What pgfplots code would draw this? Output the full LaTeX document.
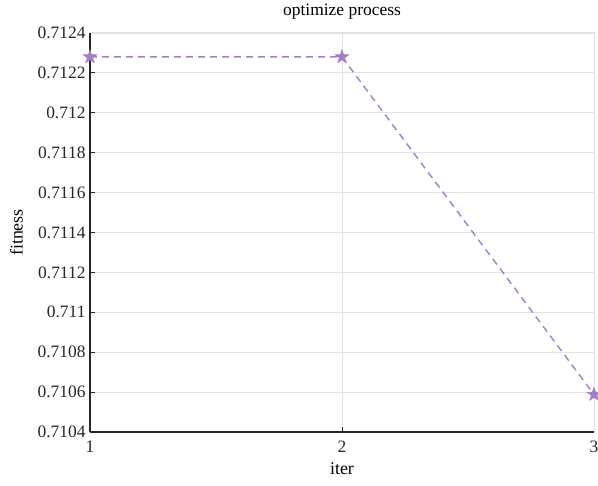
\documentclass[border=0pt]{standalone}
\usepackage{fontspec}
\setmainfont{Liberation Serif}
\usepackage{pgfplots}
\pgfplotsset{compat=1.18}
\definecolor{linepurple}{RGB}{163,126,200}
\definecolor{gridgray}{RGB}{226,226,226}
\definecolor{axisdark}{RGB}{38,38,38}
\pgfdeclareplotmark{pentagram}{%
  \pgfpathmoveto{\pgfqpointpolar{90}{\pgfplotmarksize}}%
  \pgfpathlineto{\pgfqpointpolar{126}{0.4\pgfplotmarksize}}%
  \pgfpathlineto{\pgfqpointpolar{162}{\pgfplotmarksize}}%
  \pgfpathlineto{\pgfqpointpolar{198}{0.4\pgfplotmarksize}}%
  \pgfpathlineto{\pgfqpointpolar{234}{\pgfplotmarksize}}%
  \pgfpathlineto{\pgfqpointpolar{270}{0.4\pgfplotmarksize}}%
  \pgfpathlineto{\pgfqpointpolar{306}{\pgfplotmarksize}}%
  \pgfpathlineto{\pgfqpointpolar{342}{0.4\pgfplotmarksize}}%
  \pgfpathlineto{\pgfqpointpolar{18}{\pgfplotmarksize}}%
  \pgfpathlineto{\pgfqpointpolar{54}{0.4\pgfplotmarksize}}%
  \pgfpathclose
  \pgfusepathqfillstroke
}
\begin{document}
\begin{tikzpicture}
\useasboundingbox (-90bp,-54bp) rectangle (508bp,432bp);
\begin{axis}[
  at={(0,0)}, anchor=south west,
  scale only axis,
  width=504bp, height=399bp,
  xmin=1, xmax=3, ymin=0.7104, ymax=0.7124,
  axis x line*=bottom, axis y line*=left,
  axis line style={axisdark, line width=1.2bp},
  xtick={1,2,3},
  ytick={0.7104,0.7106,0.7108,0.711,0.7112,0.7114,0.7116,0.7118,0.712,0.7122,0.7124},
  yticklabels={0.7104,0.7106,0.7108,0.711,0.7112,0.7114,0.7116,0.7118,0.712,0.7122,0.7124},
  xticklabels={1,2,3},
  tick align=inside,
  major tick length=5bp,
  tick style={axisdark, line width=1bp},
  grid=major,
  grid style={gridgray, line width=0.9bp},
  ticklabel style={font=\fontsize{17.5}{20}\selectfont, text=axisdark},
  yticklabel style={xshift=-1bp},
  xticklabel style={yshift=-5bp},
  title={optimize process},
  title style={font=\fontsize{17.5}{20}\selectfont, yshift=4bp},
  xlabel={iter},
  ylabel={fitness},
  label style={font=\fontsize{18}{20}\selectfont},
  xlabel style={yshift=-4bp},
  ylabel style={yshift=8bp},
  clip=false,
]
\draw[gridgray, line width=1bp] (rel axis cs:0,1) -- (rel axis cs:1,1) -- (rel axis cs:1,0);
\addplot[linepurple, dash pattern=on 7bp off 5bp, line width=1.4bp,
  mark=pentagram, mark size=7bp, mark options={solid, fill=linepurple, line width=0.6bp}]
  coordinates {(1,0.71228) (2,0.71228) (3,0.710588)};
\end{axis}
\end{tikzpicture}
\end{document}
